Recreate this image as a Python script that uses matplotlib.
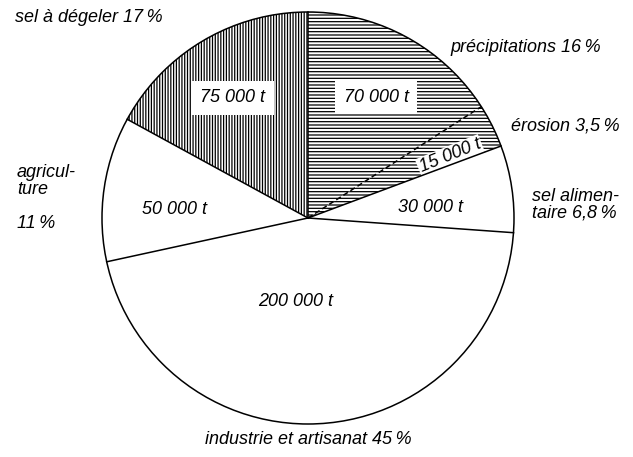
import matplotlib
matplotlib.use("Agg")
import matplotlib.pyplot as plt
from matplotlib.patches import Circle
import numpy as np

plt.rcParams['font.family'] = ['Liberation Sans', 'DejaVu Sans']
plt.rcParams['font.style'] = 'italic'
plt.rcParams['hatch.linewidth'] = 0.9

# Data (tonnes per year, clockwise from the top)
tonnes = [70000, 15000, 30000, 200000, 50000, 75000]
amount_labels = ["70 000 t", "15 000 t", "30 000 t", "200 000 t", "50 000 t", "75 000 t"]
names = ["précipitations 16\u2009%", "érosion 3,5\u2009%", "sel alimen-\ntaire 6,8\u2009%",
         "industrie et artisanat 45\u2009%", "agricul-\nture\n\n11\u2009%", "sel à dégeler 17\u2009%"]
hatches = ['-----', '-----', '', '', '', '||||||']

W, H = 633, 457
cx, cy, r = 308, H - 218, 206

fig = plt.figure(figsize=(W / 100, H / 100), dpi=100)
ax = fig.add_axes([0, 0, 1, 1])

wedges, _ = ax.pie(tonnes, startangle=90, counterclock=False, center=(cx, cy), radius=r,
                   hatch=hatches,
                   wedgeprops=dict(facecolor='white', edgecolor='black', linewidth=0))

fs = 13
box = dict(boxstyle='square,pad=0.45', facecolor='white', edgecolor='none')
small_box = dict(boxstyle='square,pad=0.08', facecolor='white', edgecolor='none')

# amounts inside the slices (pixel positions of the reference)
inner_pos = [(376, 97), (450, 156), (430, 207), (296, 301), (174, 209), (233, 98)]
inner_rot = [0, 22, 0, 0, 0, 0]
inner_box = [box, small_box, None, None, None, box]
for i, (lab, (x, y)) in enumerate(zip(amount_labels, inner_pos)):
    ax.text(x, H - y, lab, fontsize=fs, ha='center', va='center', rotation=inner_rot[i],
            rotation_mode='anchor', bbox=inner_box[i], zorder=2.5)

# outline and radial edges
ax.add_patch(Circle((cx, cy), r, fill=False, edgecolor='black', linewidth=1.1, zorder=3))
for i, w in enumerate(wedges):
    a = np.radians(w.theta2)
    ls = (0, (3.5, 2)) if i == 1 else '-'
    ax.plot([cx, cx + r * np.cos(a)], [cy, cy + r * np.sin(a)], color='black',
            linewidth=1.1, linestyle=ls, zorder=3)

# outer names
ax.text(450, H - 48, names[0], fontsize=fs, ha='left', va='center')
ax.text(511, H - 126, names[1], fontsize=fs, ha='left', va='center')
ax.text(532, H - 205, names[2], fontsize=fs, ha='left', va='center', linespacing=1.0)
ax.text(308, H - 440, names[3], fontsize=fs, ha='center', va='center')
ax.text(17, H - 198, names[4], fontsize=fs, ha='left', va='center', linespacing=1.0)
ax.text(15, H - 18, names[5], fontsize=fs, ha='left', va='center')

ax.set_xlim(0, W)
ax.set_ylim(0, H)
ax.set_aspect('equal')
ax.axis('off')

fig.savefig('out.png', dpi=100)
